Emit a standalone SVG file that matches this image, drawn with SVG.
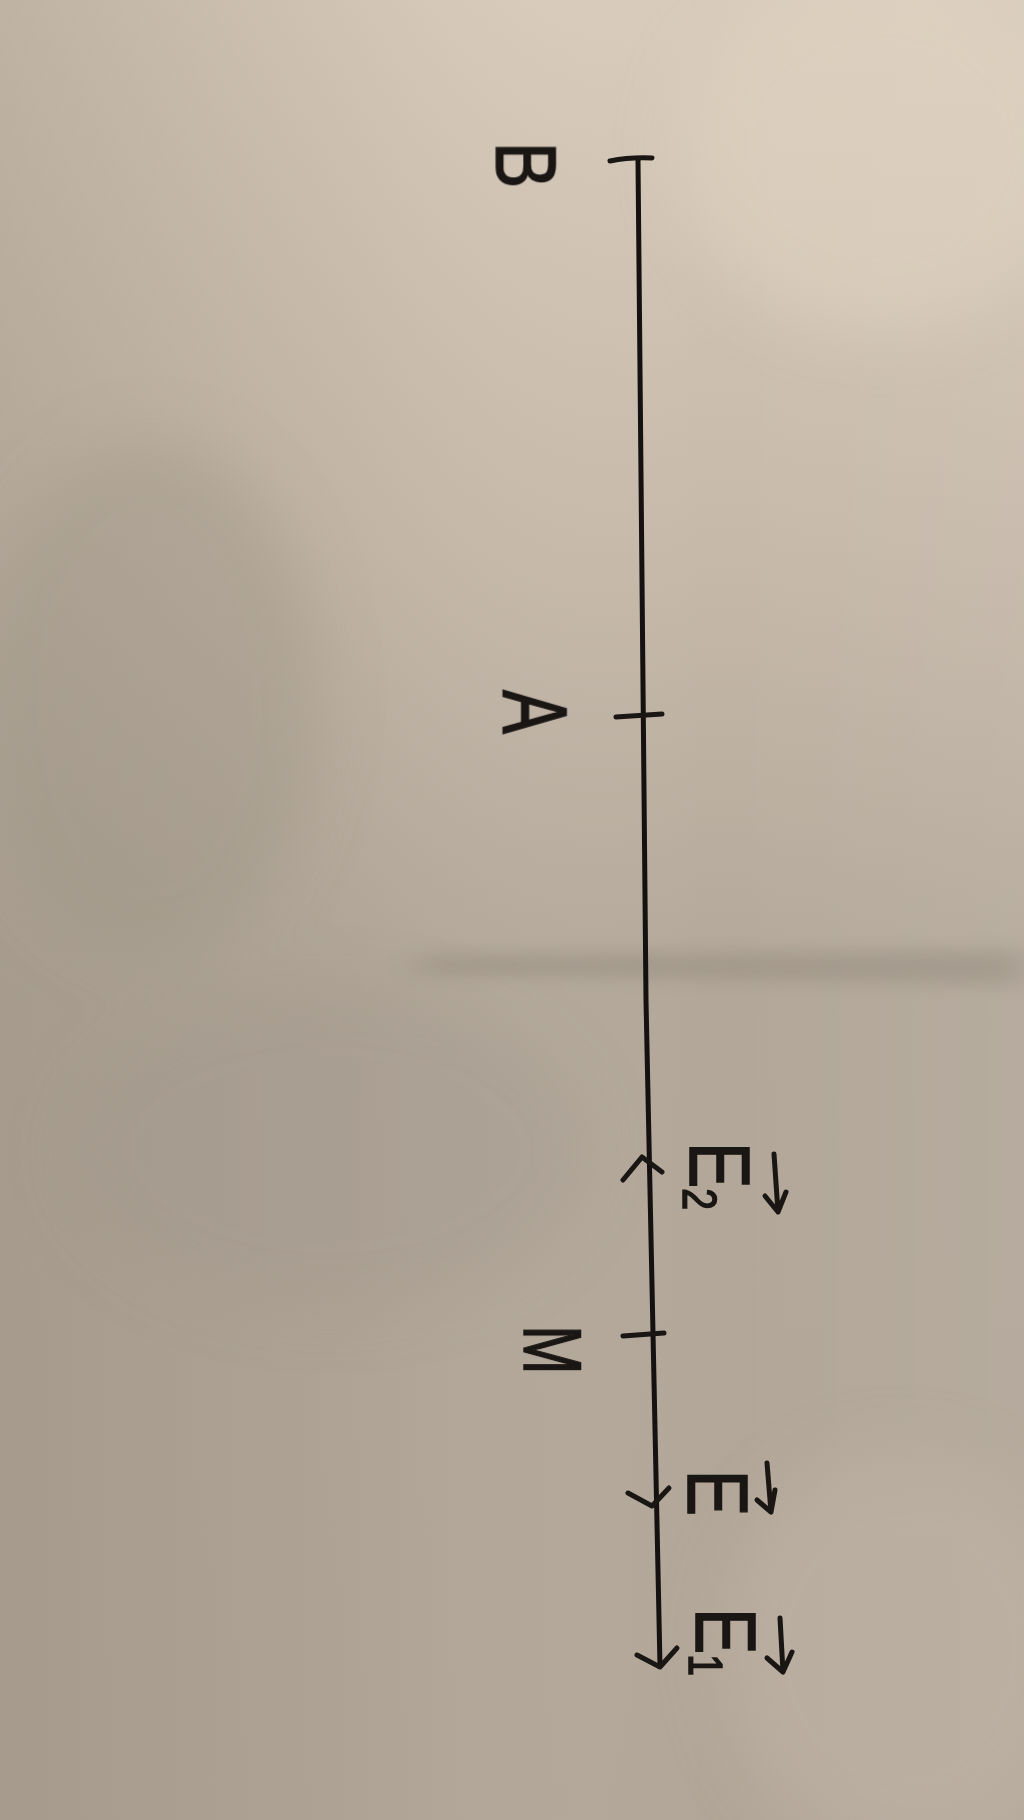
<svg xmlns="http://www.w3.org/2000/svg" width="1024" height="1820" viewBox="0 0 1024 1820">
  <defs>
    <linearGradient id="bg" x1="0" y1="0" x2="0" y2="1">
      <stop offset="0" stop-color="#d8cbbb"/>
      <stop offset="0.3" stop-color="#c6b9aa"/>
      <stop offset="0.55" stop-color="#b2a799"/>
      <stop offset="1" stop-color="#b2a698"/>
    </linearGradient>
    <linearGradient id="side" x1="0" y1="0" x2="1" y2="0">
      <stop offset="0" stop-color="#8f8578" stop-opacity="0.35"/>
      <stop offset="0.35" stop-color="#8f8578" stop-opacity="0.1"/>
      <stop offset="0.7" stop-color="#ffffff" stop-opacity="0"/>
      <stop offset="1" stop-color="#ffffff" stop-opacity="0.05"/>
    </linearGradient>
    <filter id="blur" x="-20%" y="-20%" width="140%" height="140%">
      <feGaussianBlur stdDeviation="30"/>
    </filter>
    <filter id="softfold" x="-10%" y="-200%" width="120%" height="500%">
      <feGaussianBlur stdDeviation="18 8"/>
    </filter>
  </defs>
  <style>
    .ink { stroke: #1a1614; stroke-width: 5; stroke-linecap: round; stroke-linejoin: round; fill: none; }
    .axis { stroke: #141110; stroke-width: 5; fill: none; }
    .lbl { font-family: "Liberation Sans", Arial, sans-serif; fill: #1a1614; stroke: #1a1614; stroke-width: 1.5; font-size: 82px; }
    .sub { font-family: "Liberation Sans", Arial, sans-serif; font-size: 46px; }
  </style>

  <!-- paper background -->
  <rect x="0" y="0" width="1024" height="1820" fill="url(#bg)"/>
  <rect x="0" y="0" width="1024" height="1820" fill="url(#side)"/>
  <g filter="url(#blur)">
    <ellipse cx="150" cy="700" rx="170" ry="260" fill="#9c9183" opacity="0.35"/>
    <ellipse cx="880" cy="150" rx="200" ry="180" fill="#e2d4c2" opacity="0.5"/>
    <ellipse cx="330" cy="1150" rx="260" ry="160" fill="#a0968a" opacity="0.3"/>
    <ellipse cx="900" cy="1650" rx="180" ry="200" fill="#c2b7a9" opacity="0.4"/>
  </g>
  <path d="M420,955 L1024,950 L1024,985 L420,975 Z" fill="#7d7367" opacity="0.28" filter="url(#softfold)"/>

  <!-- connectors: the axis line with arrows -->
  <g id="connectors">
    <path class="axis" d="M638,160 L646,1000 L660,1666"/>
    <path class="ink" d="M610,161 Q630,157 652,158"/>
    <path class="ink" d="M623,1180 L642,1157 L662,1172"/>
    <path class="ink" d="M628,1493 L652,1506 L669,1488"/>
    <path class="ink" d="M637,1655 L660,1667 L677,1648"/>
  </g>

  <!-- tick marks -->
  <g id="tick-A"><path class="ink" d="M616,717 L662,714"/></g>
  <g id="tick-M"><path class="ink" d="M623,1336 L664,1333"/></g>

  <!-- labels -->
  <g id="node-B">
    <text class="lbl" transform="translate(527,165) rotate(90) scale(0.85,1.05)" text-anchor="middle" y="29">B</text>
  </g>
  <g id="node-A">
    <text class="lbl" transform="translate(536,712) rotate(90) scale(0.8,1.1)" text-anchor="middle" y="29">A</text>
  </g>
  <g id="node-M">
    <text class="lbl" transform="translate(553,1350) rotate(90) scale(0.72,1)" text-anchor="middle" y="29">M</text>
  </g>
  <g id="node-E2">
    <text class="lbl" transform="translate(720,1176) rotate(90) scale(0.85,1.05)" text-anchor="middle" y="29">E<tspan class="sub" dx="0" dy="6">2</tspan></text>
    <path class="ink" d="M774,1154 L778,1212 M765,1196 L778,1212 L786,1192"/>
  </g>
  <g id="node-E">
    <text class="lbl" transform="translate(718,1493) rotate(90) scale(0.85,1.05)" text-anchor="middle" y="29">E</text>
    <path class="ink" d="M767,1463 L771,1512 M757,1500 L771,1512 L775,1490"/>
  </g>
  <g id="node-E1">
    <text class="lbl" transform="translate(726,1642) rotate(90) scale(0.85,1.05)" text-anchor="middle" y="29">E<tspan class="sub" dx="0" dy="6">1</tspan></text>
    <path class="ink" d="M780,1618 L783,1672 M767,1658 L783,1672 L792,1652"/>
  </g>
</svg>
